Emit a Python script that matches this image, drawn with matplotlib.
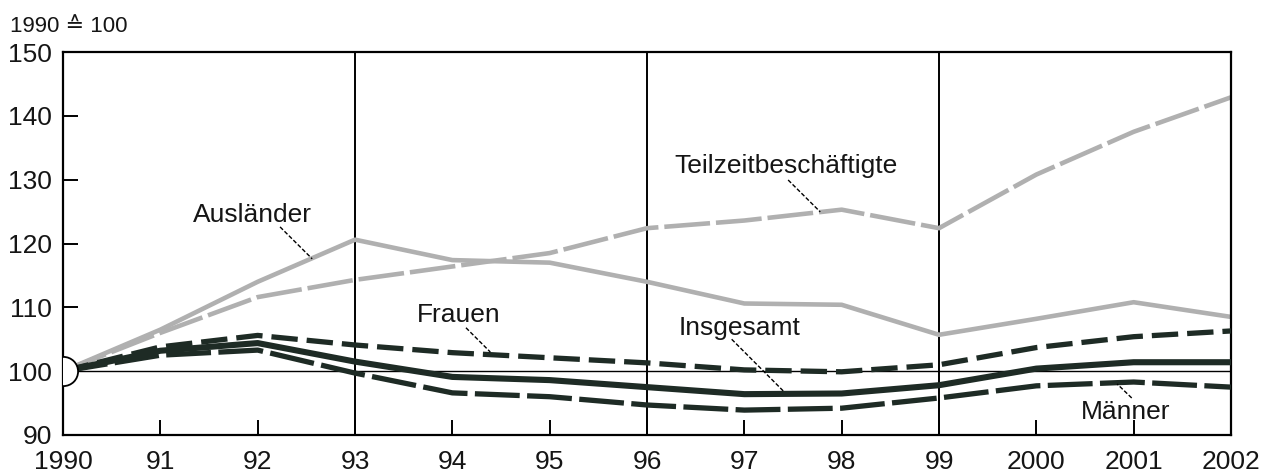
import matplotlib
matplotlib.use("Agg")
import matplotlib.pyplot as plt

years = list(range(1990, 2003))
tick_labels = ["1990", "91", "92", "93", "94", "95", "96", "97", "98", "99", "2000", "2001", "2002"]

auslaender = [100, 106.5, 114, 120.6, 117.4, 117, 114, 110.6, 110.4, 105.7, 108.2, 110.8, 108.5]
teilzeit = [100, 106, 111.6, 114.3, 116.4, 118.5, 122.4, 123.6, 125.3, 122.4, 130.8, 137.5, 142.9]
frauen = [100, 103.8, 105.6, 104.1, 102.9, 102.1, 101.3, 100.2, 99.9, 101, 103.7, 105.4, 106.3]
insgesamt = [100, 103.2, 104.4, 101.5, 99.1, 98.6, 97.5, 96.4, 96.5, 97.8, 100.4, 101.4, 101.4]
maenner = [100, 102.5, 103.3, 99.7, 96.6, 96, 94.7, 93.9, 94.2, 95.8, 97.7, 98.3, 97.5]

# label text, text position (centre x, baseline y), leader start, leader end
labels = [
    ("Ausländer", (1991.95, 123.4), (1992.23, 122.6), (1992.56, 117.6)),
    ("Teilzeitbeschäftigte", (1997.43, 131.05), (1997.45, 129.95), (1997.78, 124.95)),
    ("Frauen", (1994.07, 107.7), (1994.14, 106.8), (1994.39, 103.0)),
    ("Insgesamt", (1996.95, 105.7), (1996.87, 105.0), (1997.40, 96.9)),
    ("Männer", (2000.92, 92.5), (2000.98, 95.8), (2000.83, 98.0)),
]

fams = ["Liberation Sans", "DejaVu Sans"]
plt.rcParams["font.family"] = fams

dark = "#1e2b25"
gray = "#b0b0b0"
txtc = "#151515"

fig = plt.figure(figsize=(12.63, 4.74), dpi=100)
ax = fig.add_axes([63 / 1263, 1 - 435 / 474, (1231 - 63) / 1263, (435 - 52) / 474])

ax.axhline(100, color="black", lw=1.0, zorder=1)
for xv in (1993, 1996, 1999):
    ax.axvline(xv, color="black", lw=1.4, zorder=1)

ax.plot(years, auslaender, color=gray, lw=3.3, solid_joinstyle="round", zorder=2)
ax.plot(years, teilzeit, color=gray, lw=3.3, dashes=(10, 1.3), zorder=2)
ax.plot(years, frauen, color=dark, lw=3.8, dashes=(5, 1.7), zorder=3)
ax.plot(years, insgesamt, color=dark, lw=4.4, zorder=3)
ax.plot(years, maenner, color=dark, lw=3.8, dashes=(8.5, 1.4), zorder=3)

ax.plot([years[0]], [insgesamt[0]], marker="o", ms=21, mfc="white", mec="black",
        mew=1.3, zorder=4, clip_on=True)

for txt, tpos, p0, p1 in labels:
    ax.text(tpos[0], tpos[1], txt, fontsize=19, ha="center", va="baseline", color=txtc)
    ax.plot([p0[0], p1[0]], [p0[1], p1[1]], color="black", lw=1.0, dashes=(3, 1.5), zorder=5)

ax.set_xlim(1990, 2002)
ax.set_ylim(90, 150)
ax.set_xticks(years)
ax.set_xticklabels(tick_labels)
ax.set_yticks([90, 100, 110, 120, 130, 140, 150])
ax.tick_params(axis="both", direction="in", length=11, width=1.4, labelsize=19, colors="black")
ax.tick_params(axis="x", pad=11)
ax.tick_params(axis="y", pad=8)
for lab in ax.get_xticklabels() + ax.get_yticklabels():
    lab.set_color(txtc)
for s in ax.spines.values():
    s.set_linewidth(1.6)

fig.text(10 / 1263, 1 - 32 / 474, "1990 ≙ 100", fontsize=16, ha="left", va="baseline", color=txtc)

fig.savefig("out.png", dpi=100)
